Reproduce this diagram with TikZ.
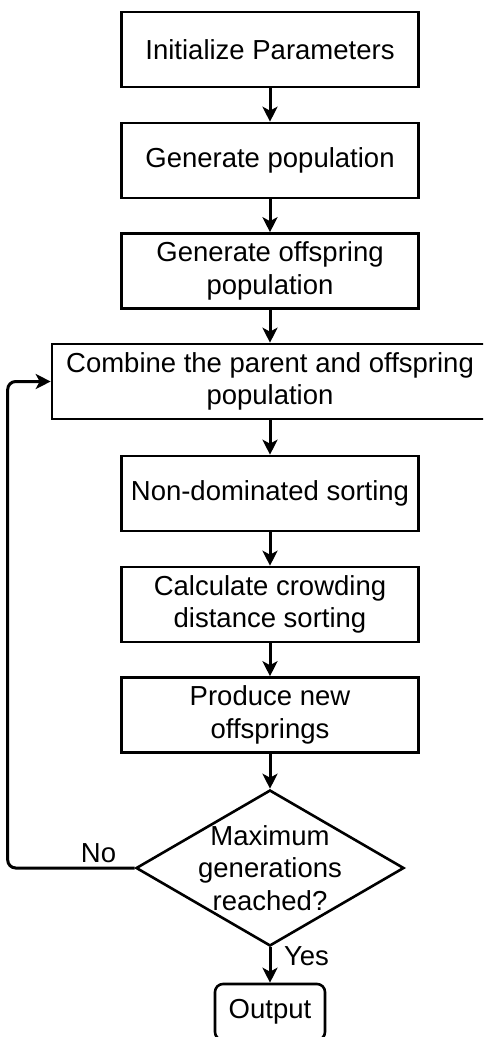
\documentclass[tikz,border=0pt]{standalone}
\usepackage{fontspec}
\setmainfont{Liberation Sans}
\usetikzlibrary{shapes.geometric,arrows.meta}
\begin{document}
\begin{tikzpicture}[x=1pt,y=-1pt,
  every node/.style={font=\fontsize{27.5}{32.5}\selectfont},
  stepbox/.style={draw, line width=2.6pt, minimum width=297pt, minimum height=75pt,
                  align=center, inner sep=0pt},
  decision/.style={draw, diamond, line width=2.6pt, minimum width=268pt,
                   minimum height=156pt, aspect=1.718, inner sep=0pt},
  endbox/.style={draw, rounded corners=8pt, line width=2.6pt, minimum width=110pt,
                 minimum height=56pt, inner sep=0pt},
  flow/.style={line width=3pt, -{Stealth[length=15pt,width=15pt,inset=4pt]}},
  lbl/.style={anchor=base, inner sep=0pt}
]
\useasboundingbox (0,0) rectangle (483,1037);
\clip (0,0) rectangle (483,1037);

% process steps
\node[stepbox] (init) at (270,49.5)  {Initialize Parameters};
\node[stepbox] (gen)  at (270,160.5) {Generate population};
\node[stepbox] (off)  at (270,271)   {Generate offspring\\population};
\node[stepbox, minimum width=436pt] (comb) at (270,381.5)
      {Combine the parent and offspring\\population};
\node[stepbox] (nds)  at (270,493.5) {Non-dominated sorting};
\node[stepbox] (crowd) at (270,604.5) {Calculate crowding\\distance sorting};
\node[stepbox] (prod) at (270,715)   {Produce new\\offsprings};

% termination test
\node[decision] (dec) at (270,868) {};
\node[align=center, inner sep=0pt] (dectxt) at (dec.center)
      {Maximum\\generations\\reached?};

% result
\node[endbox] (out) at (270,1012) {Output};

% main flow
\draw[flow] (init.south)  -- (gen.north);
\draw[flow] (gen.south)   -- (off.north);
\draw[flow] (off.south)   -- (comb.north);
\draw[flow] (comb.south)  -- (nds.north);
\draw[flow] (nds.south)   -- (crowd.north);
\draw[flow] (crowd.south) -- (prod.north);
\draw[flow] (prod.south)  -- (dec.north);
\draw[flow] (dec.south)   -- (out.north);

% loop back
\draw[flow, rounded corners=8pt] (dec.west) -- ++(-127,0) |- (comb.west);

% branch labels
\node[lbl] (nolbl)  at (98.5,862) {No};
\node[lbl] (yeslbl) at (306.5,965) {Yes};
\end{tikzpicture}
\end{document}
